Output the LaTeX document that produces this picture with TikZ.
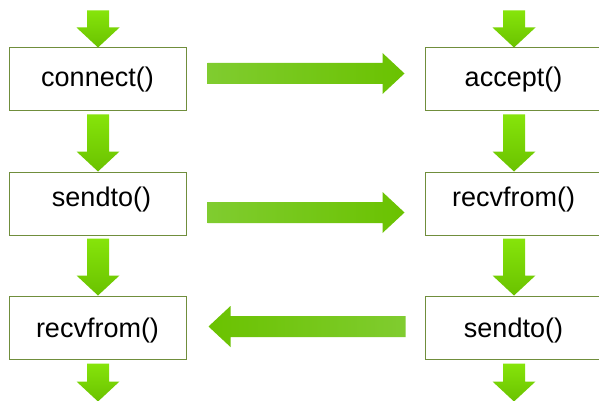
\documentclass[tikz,border=0pt]{standalone}
\usepackage{fontspec}
\setmainfont{Liberation Sans}
\usetikzlibrary{calc}
\definecolor{boxline}{RGB}{112,142,60}
\definecolor{gbright}{RGB}{134,228,10}
\definecolor{gdark}{RGB}{106,194,0}
\definecolor{gmuted}{RGB}{128,204,48}
\tikzset{
  box/.style={draw=boxline, line width=1pt, fill=white, minimum width=177pt, minimum height=63pt,
    inner sep=0pt, font=\fontsize{27}{30}\selectfont, text height=19.7pt, text depth=5.7pt},
  rowtwo/.style={text depth=13.7pt},
  rowthree/.style={text height=25.7pt},
  varr/.style={top color=gbright, bottom color=gdark},
  rarr/.style={left color=gmuted, middle color=gbright, right color=gdark},
  larr/.style={left color=gdark, middle color=gbright, right color=gmuted},
}
\newcommand\downarr[2]{\path[varr] let \p1=(#1),\p2=(#2) in
  (\x1-11pt,\y1) -- (\x1+11pt,\y1) -- (\x1+11pt,\y2+20pt) -- (\x1+21.5pt,\y2+20pt)
  -- (\x1,\y2) -- (\x1-21.5pt,\y2+20pt) -- (\x1-11pt,\y2+20pt) -- cycle;}
\newcommand\rightarr[2]{\path[rarr] let \p1=(#1),\p2=(#2) in
  (\x1,\y1+10.5pt) -- (\x2-22pt,\y1+10.5pt) -- (\x2-22pt,\y1+20.5pt) -- (\x2,\y1)
  -- (\x2-22pt,\y1-20.5pt) -- (\x2-22pt,\y1-10.5pt) -- (\x1,\y1-10.5pt) -- cycle;}
\newcommand\leftarr[2]{\path[larr] let \p1=(#1),\p2=(#2) in
  (\x1,\y1+10.5pt) -- (\x2+22pt,\y1+10.5pt) -- (\x2+22pt,\y1+20.5pt) -- (\x2,\y1)
  -- (\x2+22pt,\y1-20.5pt) -- (\x2+22pt,\y1-10.5pt) -- (\x1,\y1-10.5pt) -- cycle;}
\begin{document}
\begin{tikzpicture}[x=1pt,y=-1pt]
\useasboundingbox (0,0) rectangle (599,401);
\clip (0,0) rectangle (599,401);
\fill[white] (0,0) rectangle (599,401);
% client column
\node[box] (c1) at (97.5,79.5) {connect()};
\node[box,rowtwo] (c2) at (97.5,203.5) {\hspace*{8pt}sendto()};
\node[box,rowthree] (c3) at (97.5,327.5) {recvfrom()};
% server column
\node[box] (s1) at (513.5,79.5) {accept()};
\node[box,rowtwo] (s2) at (513.5,203.5) {recvfrom()};
\node[box,rowthree] (s3) at (513.5,327.5) {sendto()};
% coordinates for arrows
\coordinate (ct) at ($(c1.north)+(0.5,-37)$);
\coordinate (ctt) at ($(c1.north)+(0.5,0)$);
\coordinate (c12a) at ($(c1.south)+(0.5,3)$);
\coordinate (c12b) at ($(c2.north)+(0.5,0)$);
\coordinate (c23a) at ($(c2.south)+(0.5,3)$);
\coordinate (c23b) at ($(c3.north)+(0.5,0)$);
\coordinate (cba) at ($(c3.south)+(0.5,4)$);
\coordinate (cbb) at ($(c3.south)+(0.5,42)$);
\coordinate (st) at ($(s1.north)+(0.5,-37)$);
\coordinate (stt) at ($(s1.north)+(0.5,0)$);
\coordinate (s12a) at ($(s1.south)+(0.5,3)$);
\coordinate (s12b) at ($(s2.north)+(0.5,0)$);
\coordinate (s23a) at ($(s2.south)+(0.5,3)$);
\coordinate (s23b) at ($(s3.north)+(0.5,0)$);
\coordinate (sba) at ($(s3.south)+(0.5,4)$);
\coordinate (sbb) at ($(s3.south)+(0.5,42)$);
\coordinate (h1a) at ($(c1.east)+(21,-6)$);
\coordinate (h1b) at ($(s1.west)+(-20,-6)$);
\coordinate (h2a) at ($(c2.east)+(21,9)$);
\coordinate (h2b) at ($(s2.west)+(-20,9)$);
\coordinate (h3a) at ($(s3.west)+(-19,-1)$);
\coordinate (h3b) at ($(c3.east)+(22,-1)$);
% vertical arrows
\downarr{ct}{ctt}
\downarr{c12a}{c12b}
\downarr{c23a}{c23b}
\downarr{cba}{cbb}
\downarr{st}{stt}
\downarr{s12a}{s12b}
\downarr{s23a}{s23b}
\downarr{sba}{sbb}
% horizontal arrows
\rightarr{h1a}{h1b}
\rightarr{h2a}{h2b}
\leftarr{h3a}{h3b}
\end{tikzpicture}
\end{document}
